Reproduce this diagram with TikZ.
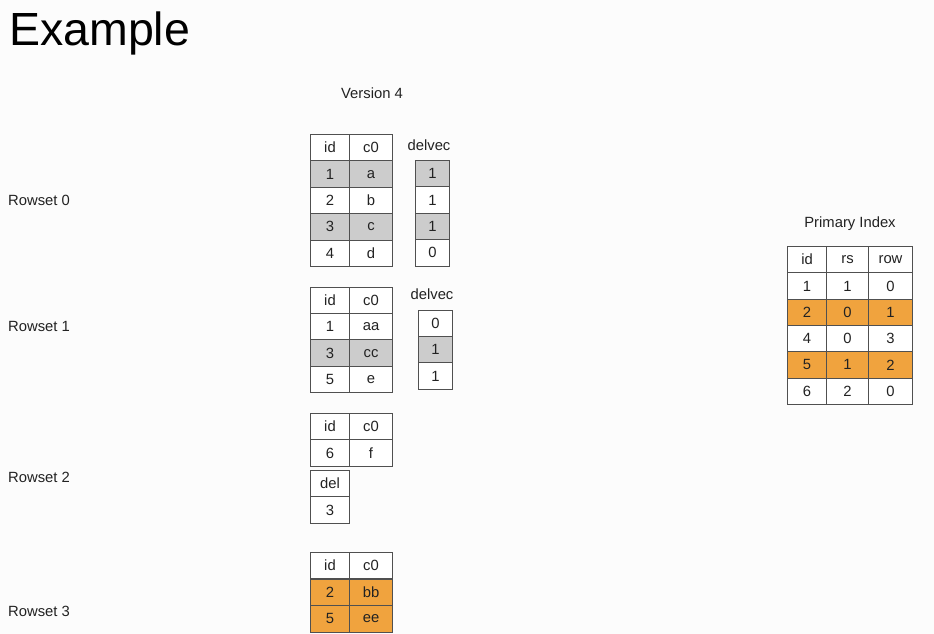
\documentclass[tikz,border=0pt]{standalone}
\usepackage{fontspec}
\setmainfont{Liberation Sans}
\usetikzlibrary{positioning}

\definecolor{delgray}{RGB}{204,204,204}
\definecolor{updorange}{RGB}{240,163,62}
\definecolor{linegray}{RGB}{80,80,80}
\definecolor{inkgray}{RGB}{34,34,34}

\begin{document}
\begin{tikzpicture}[x=1pt, y=-1pt,
    cell/.style={draw=linegray, line width=1pt, anchor=north west, inner sep=0pt,
                 minimum height=26.4pt, text=inkgray, font=\fontsize{14.8}{16}\selectfont},
    narrow/.style={cell, minimum width=39pt},
    wide/.style={cell, minimum width=43pt},
    label/.style={font=\fontsize{14.8}{16}\selectfont, text=inkgray, inner sep=0pt}
]
\useasboundingbox[fill=white!99!black] (0,0) rectangle (934,634);

% title and headings
\node[anchor=west, inner sep=0pt, font=\fontsize{46.5}{50}\selectfont] (title) at (9,33) {Example};
\node[label] (version) at (372,93) {Version 4};
\node[label] (pindex) at (850,224) {Primary Index};

% rowset labels
\node[label, anchor=west] (rs0) at (8,200) {Rowset 0};
\node[label, anchor=west] (rs1) at (8,326) {Rowset 1};
\node[label, anchor=west] (rs2) at (8,477) {Rowset 2};
\node[label, anchor=west] (rs3) at (8,611) {Rowset 3};

% rowset 0
\foreach \a/\b/\f [count=\i from 0] in {id/c0/white, 1/a/delgray, 2/b/white, 3/c/delgray, 4/d/white}
  \node[narrow, fill=\f] (ra\i) at (310,134+26.4*\i) {\a}
    node[wide, fill=\f] (rb\i) at (349,134+26.4*\i) {\b};
\node[label] (dv0) at (429,145) {delvec};
\foreach \v/\f [count=\i from 0] in {1/delgray, 1/white, 1/delgray, 0/white}
  \node[cell, minimum width=34pt, fill=\f] (dva\i) at (415,160+26.4*\i) {\v};

% rowset 1
\foreach \a/\b/\f [count=\i from 0] in {id/c0/white, 1/aa/white, 3/cc/delgray, 5/e/white}
  \node[narrow, fill=\f] (sa\i) at (310,287+26.2*\i) {\a}
    node[wide, fill=\f] (sb\i) at (349,287+26.2*\i) {\b};
\node[label] (dv1) at (432,294) {delvec};
\foreach \v/\f [count=\i from 0] in {0/white, 1/delgray, 1/white}
  \node[cell, minimum width=34pt, fill=\f] (dvb\i) at (418,310+26.2*\i) {\v};

% rowset 2
\foreach \a/\b [count=\i from 0] in {id/c0, 6/f}
  \node[narrow, fill=white] (ta\i) at (310,413+26.4*\i) {\a}
    node[wide, fill=white] (tb\i) at (349,413+26.4*\i) {\b};
\foreach \v [count=\i from 0] in {del, 3}
  \node[narrow, fill=white] (del\i) at (310,470+26.2*\i) {\v};

% rowset 3
\foreach \a/\b/\f [count=\i from 0] in {id/c0/white, 2/bb/updorange, 5/ee/updorange}
  \node[narrow, fill=\f] (ua\i) at (310,552+26.6*\i) {\a}
    node[wide, fill=\f] (ub\i) at (349,552+26.6*\i) {\b};

% primary index
\foreach \a/\b/\c/\f [count=\i from 0] in {id/rs/row/white, 1/1/0/white, 2/0/1/updorange,
    4/0/3/white, 5/1/2/updorange, 6/2/0/white}
  \node[narrow, fill=\f] (pa\i) at (787,246+26.3*\i) {\a}
    node[cell, minimum width=42pt, fill=\f] (pb\i) at (826,246+26.3*\i) {\b}
    node[cell, minimum width=44pt, fill=\f] (pc\i) at (868,246+26.3*\i) {\c};
\end{tikzpicture}
\end{document}
